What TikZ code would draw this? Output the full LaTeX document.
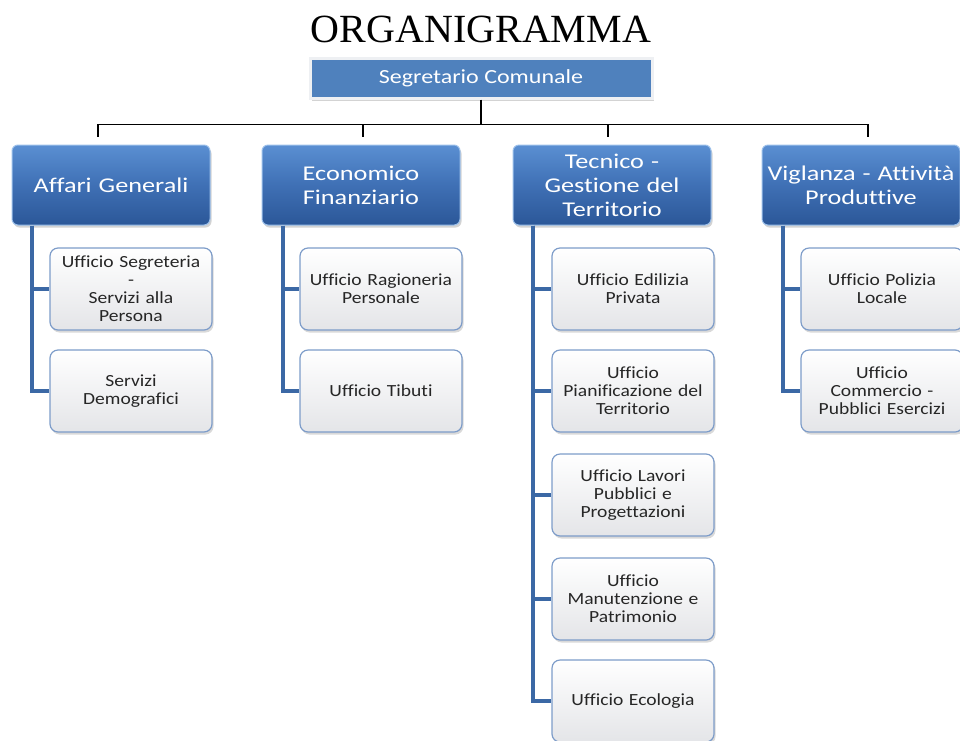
\documentclass[tikz,border=0pt]{standalone}
\usepackage{fontspec}
\setmainfont[FakeStretch=1.15,RawFeature={-liga}]{Carlito}
\newfontfamily\deptfont[FakeStretch=1.25,RawFeature={-liga}]{Carlito}
\newfontfamily\segfont[FakeStretch=1.2]{Carlito}
\newfontfamily\titlefont{Liberation Serif}
\usetikzlibrary{shadows}

\definecolor{depTop}{HTML}{5A8FD2}
\definecolor{depMid}{HTML}{3F70B5}
\definecolor{depBot}{HTML}{2B5798}
\definecolor{depLine}{HTML}{9CC0EA}
\definecolor{segFill}{HTML}{4F81BD}
\definecolor{segFrame}{HTML}{EEF0F3}
\definecolor{childLine}{HTML}{7D9CC9}
\definecolor{childBot}{HTML}{E4E5E8}
\definecolor{trunkCol}{HTML}{3B68A5}

\begin{document}
\begin{tikzpicture}[x=1pt,y=-1pt,
  dept/.style={rectangle, rounded corners=6pt, draw=depLine, line width=1pt,
    top color=depTop, bottom color=depBot, middle color=depMid,
    minimum width=198pt, minimum height=80pt, text width=196pt, align=center,
    inner sep=0pt, text=white, font=\deptfont\fontsize{21}{24}\selectfont,
    drop shadow={opacity=0.35, shadow xshift=1.5pt, shadow yshift=-2.5pt}},
  office/.style={rectangle, rounded corners=8pt, draw=childLine, line width=1.2pt,
    top color=white, bottom color=childBot,
    minimum width=162pt, minimum height=82pt, text width=160pt, align=center,
    inner sep=0pt, text=black!85, font=\fontsize{17}{18}\selectfont,
    drop shadow={opacity=0.3, shadow xshift=1.5pt, shadow yshift=-2.5pt}},
  segbox/.style={rectangle, draw=segFrame, line width=3pt, fill=segFill,
    minimum width=342pt, minimum height=40pt, inner sep=0pt, text=white,
    font=\segfont\fontsize{20}{22}\selectfont,
    drop shadow={opacity=0.35, shadow xshift=2pt, shadow yshift=-3pt}},
  bus/.style={draw=black, line width=1.3pt},
  trunk/.style={draw=trunkCol, line width=4pt}
]
\useasboundingbox (0,0) rectangle (960,740);

\node (title) at (481,29) {\titlefont\fontsize{40}{44}\selectfont ORGANIGRAMMA};
\node[segbox] (seg) at (481,78) {Segretario Comunale};

\node[dept] (aff) at (111,185) {Affari Generali};
\node[dept] (eco) at (361,185) {Economico\\Finanziario};
\node[dept] (tec) at (612,185) {Tecnico -\\Gestione del\\Territorio};
\node[dept] (vig) at (861,185) {Viglanza - Attività\\Produttive};

\node[office] (a1) at (131,289) {Ufficio Segreteria\\-\\Servizi alla\\Persona};
\node[office] (a2) at (131,391) {Servizi\\Demografici};

\node[office] (e1) at (381,289) {Ufficio Ragioneria\\Personale};
\node[office] (e2) at (381,391) {Ufficio Tibuti};

\node[office] (t1) at (633,289) {Ufficio Edilizia\\Privata};
\node[office] (t2) at (633,391) {Ufficio\\Pianificazione del\\Territorio};
\node[office] (t3) at (633,495) {Ufficio Lavori\\Pubblici e\\Progettazioni};
\node[office] (t4) at (633,599) {Ufficio\\Manutenzione e\\Patrimonio};
\node[office] (t5) at (633,701) {Ufficio Ecologia};

\node[office] (v1) at (882,289) {Ufficio Polizia\\Locale};
\node[office] (v2) at (882,391) {Ufficio\\Commercio -\\Pubblici Esercizi};

% black bus
\draw[bus] (seg.south) -- ([yshift=20pt]eco.north -| seg.south);
\draw[bus] ([shift={(-13,-8)}]aff.north) -- ++(0,-12) -- ([shift={(7,-20)}]vig.north) -- ([shift={(7,-8)}]vig.north);
\draw[bus] ([shift={(2,-8)}]eco.north) -- ++(0,-12);
\draw[bus] ([shift={(-4,-8)}]tec.north) -- ++(0,-12);

% blue trunks
\draw[trunk] ([xshift=20pt]aff.south west) |- (a1.west);
\draw[trunk] ([xshift=20pt]aff.south west) |- (a2.west);
\draw[trunk] ([xshift=21pt]eco.south west) |- (e1.west);
\draw[trunk] ([xshift=21pt]eco.south west) |- (e2.west);
\draw[trunk] ([xshift=20pt]tec.south west) |- (t1.west);
\draw[trunk] ([xshift=20pt]tec.south west) |- (t2.west);
\draw[trunk] ([xshift=20pt]tec.south west) |- (t3.west);
\draw[trunk] ([xshift=20pt]tec.south west) |- (t4.west);
\draw[trunk] ([xshift=20pt]tec.south west) |- (t5.west);
\draw[trunk] ([xshift=21pt]vig.south west) |- (v1.west);
\draw[trunk] ([xshift=21pt]vig.south west) |- (v2.west);
\end{tikzpicture}
\end{document}
